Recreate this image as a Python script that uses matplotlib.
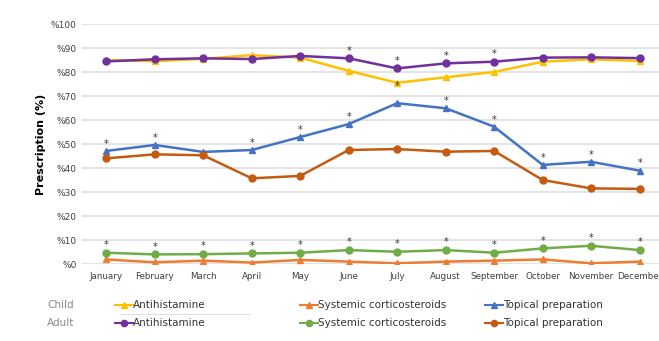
import matplotlib.pyplot as plt
from matplotlib.lines import Line2D

months = ['January', 'February', 'March', 'April', 'May', 'June', 'July',
          'August', 'September', 'October', 'November', 'December']

child_antihistamine = [85.0, 84.5, 85.5, 87.0, 86.0, 80.5, 75.5, 77.8, 80.0, 84.3, 85.3, 84.6]
child_systemic = [1.9, 0.7, 1.4, 0.6, 1.7, 1.0, 0.3, 1.0, 1.4, 1.9, 0.3, 1.0]
child_topical = [47.1, 49.6, 46.7, 47.5, 52.9, 58.3, 67.0, 64.9, 57.2, 41.3, 42.6, 38.9]
adult_antihistamine = [84.4, 85.3, 85.7, 85.4, 86.7, 85.7, 81.5, 83.6, 84.3, 86.0, 86.1, 85.8]
adult_systemic = [4.7, 4.0, 4.1, 4.4, 4.7, 5.8, 5.1, 5.8, 4.7, 6.5, 7.6, 5.8]
adult_topical = [44.0, 45.7, 45.3, 35.7, 36.7, 47.5, 47.9, 46.8, 47.1, 35.0, 31.5, 31.3]

# months (index) flagged with an asterisk, per series
star_adult_antihistamine = [5, 6, 7, 8]
star_child_antihistamine = [6]
star_child_topical = [0, 1, 3, 4, 5, 7, 8, 9, 10, 11]
star_adult_systemic = list(range(12))

series = [
    ('Child', 'Antihistamine', child_antihistamine, '#FFC000', '^'),
    ('Child', 'Systemic corticosteroids', child_systemic, '#ED7D31', '^'),
    ('Child', 'Topical preparation', child_topical, '#4472C4', '^'),
    ('Adult', 'Antihistamine', adult_antihistamine, '#7030A0', 'o'),
    ('Adult', 'Systemic corticosteroids', adult_systemic, '#70AD47', 'o'),
    ('Adult', 'Topical preparation', adult_topical, '#C55A11', 'o'),
]

fig = plt.figure(figsize=(6.59, 3.41), dpi=100)
ax = fig.add_axes([0.1244, 0.2258, 0.883, 0.7038])

x = list(range(len(months)))
for group, name, vals, color, mk in series:
    ms = 4.5 if mk == '^' else 5
    ax.plot(x, vals, color=color, lw=1.8, marker=mk, ms=ms, zorder=3)

star_kw = dict(ha='center', va='center', fontsize=7, color='#333333', zorder=4)
for i in star_adult_antihistamine:
    ax.text(i, adult_antihistamine[i] + 3.2, '*', **star_kw)
for i in star_child_antihistamine:
    ax.text(i, child_antihistamine[i] - 1.2, '*', **star_kw)
for i in star_child_topical:
    ax.text(i, child_topical[i] + 3.0, '*', **star_kw)
for i in star_adult_systemic:
    ax.text(i, adult_systemic[i] + 3.2, '*', **star_kw)

ax.set_xlim(-0.5, 11.5)
ax.set_ylim(0, 100)
ax.set_yticks(range(0, 101, 10))
ax.set_yticklabels(['%' + str(v) for v in range(0, 101, 10)])
ax.set_xticks(x)
ax.set_xticklabels(months)
ax.tick_params(axis='both', length=0, labelsize=6.3, colors='#404040')
ax.tick_params(axis='x', pad=6)
ax.tick_params(axis='y', pad=4, labelsize=6.5)
ax.grid(axis='y', color='#e4e4e4', lw=1.5)
ax.set_axisbelow(True)
for s in ax.spines.values():
    s.set_visible(False)
ax.set_ylabel('Prescription (%)', fontsize=8, fontweight='bold', labelpad=3)

# legend rows drawn by hand to keep the original column positions
row_y = {'Child': 1 - 305 / 341, 'Adult': 1 - 323 / 341}
col_x = {'Antihistamine': 115, 'Systemic corticosteroids': 300, 'Topical preparation': 485}
for group, yy in row_y.items():
    fig.text(47 / 659, yy, group, fontsize=7.5, color='#8a8a8a', va='center')
for group, name, vals, color, mk in series:
    x0 = col_x[name] / 659
    yy = row_y[group]
    ms = 4 if mk == '^' else 4.5
    fig.add_artist(Line2D([x0, x0 + 9 / 659, x0 + 18 / 659], [yy, yy, yy], color=color,
                          lw=1.5, marker=mk, ms=ms, markevery=[1]))
    fig.text(x0 + 18 / 659, yy, name, fontsize=7.5, color='#333333', va='center')
fig.add_artist(Line2D([120 / 659, 250 / 659], [1 - 314 / 341] * 2, color='#e0e0e0', lw=0.8))

fig.savefig('out.png', dpi=100)
